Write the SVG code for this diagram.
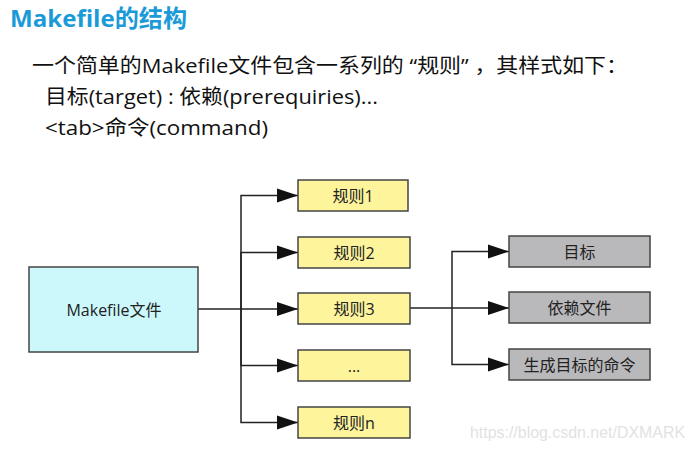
<svg xmlns="http://www.w3.org/2000/svg" width="694" height="450" viewBox="0 0 694 450">
<defs>
<style>
.t{font-family:"Open Sans","Noto Sans CJK SC",sans-serif;fill:#111}
.n{font-family:"Open Sans","Noto Sans CJK SC",sans-serif;font-size:16px;fill:#222;text-anchor:middle;dominant-baseline:central}
.rule{fill:#fdf49c;stroke:#444;stroke-width:1.5}
.gray{fill:#b9b8bb;stroke:#444;stroke-width:1.5}
.cyan{fill:#ccf8fc;stroke:#444;stroke-width:1.5}
.c{fill:none;stroke:#222;stroke-width:1.5}
</style>
<marker id="ah" markerWidth="21" markerHeight="15" refX="21" refY="7.5" orient="auto" markerUnits="userSpaceOnUse">
<path d="M0,0.5 L21,7.5 L0,14.5 Z" fill="#111"/>
</marker>
</defs>
<rect width="694" height="450" fill="#fff"/>
<text x="10" y="27" font-family="'Open Sans','Noto Sans CJK SC',sans-serif" font-size="24" font-weight="bold" fill="#1b9ad8" textLength="177" lengthAdjust="spacingAndGlyphs">Makefile的结构</text>
<text class="t" x="32" y="73" font-size="20" textLength="596" lengthAdjust="spacingAndGlyphs">一个简单的Makefile文件包含一系列的 “规则” ，其样式如下：</text>
<text class="t" x="45" y="104" font-size="20" textLength="333" lengthAdjust="spacingAndGlyphs">目标(target) : 依赖(prerequiries)...</text>
<text class="t" x="45" y="135" font-size="20" textLength="223" lengthAdjust="spacingAndGlyphs">&lt;tab&gt;命令(command)</text>
<g id="connectors">
<path class="c" d="M198,309 H298" marker-end="url(#ah)"/>
<path class="c" d="M241,309 V195.5 H298" marker-end="url(#ah)"/>
<path class="c" d="M241,309 V252.5 H298" marker-end="url(#ah)"/>
<path class="c" d="M241,309 V365.5 H298" marker-end="url(#ah)"/>
<path class="c" d="M241,309 V422.5 H298" marker-end="url(#ah)"/>
<path class="c" d="M410,308 H509" marker-end="url(#ah)"/>
<path class="c" d="M452,308 V251.5 H509" marker-end="url(#ah)"/>
<path class="c" d="M452,308 V364.5 H509" marker-end="url(#ah)"/>
</g>
<g id="makefile"><rect class="cyan" x="29" y="267" width="169" height="85"/><text class="n" x="114" y="309.5" font-size="17">Makefile文件</text></g>
<g id="rule1"><rect class="rule" x="298" y="180" width="110" height="31"/><text class="n" x="353" y="195.5">规则1</text></g>
<g id="rule2"><rect class="rule" x="298" y="237" width="112" height="31"/><text class="n" x="354" y="252.5">规则2</text></g>
<g id="rule3"><rect class="rule" x="298" y="293" width="112" height="31"/><text class="n" x="354" y="308.5">规则3</text></g>
<g id="rule-etc"><rect class="rule" x="298" y="350" width="112" height="31"/><text class="n" x="354" y="365.5" font-size="12">...</text></g>
<g id="rulen"><rect class="rule" x="298" y="407" width="112" height="31"/><text class="n" x="354" y="422.5">规则n</text></g>
<g id="target"><rect class="gray" x="509" y="236" width="141" height="31"/><text class="n" x="579.5" y="251.5">目标</text></g>
<g id="prereq"><rect class="gray" x="509" y="292" width="141" height="31"/><text class="n" x="579.5" y="307.5">依赖文件</text></g>
<g id="command"><rect class="gray" x="509" y="349" width="141" height="31"/><text class="n" x="579.5" y="364.5">生成目标的命令</text></g>
<text x="470" y="438" font-family="'Liberation Sans',sans-serif" font-size="16" fill="#e2e2e2" textLength="215" lengthAdjust="spacingAndGlyphs">https://blog.csdn.net/DXMARK</text>
</svg>
